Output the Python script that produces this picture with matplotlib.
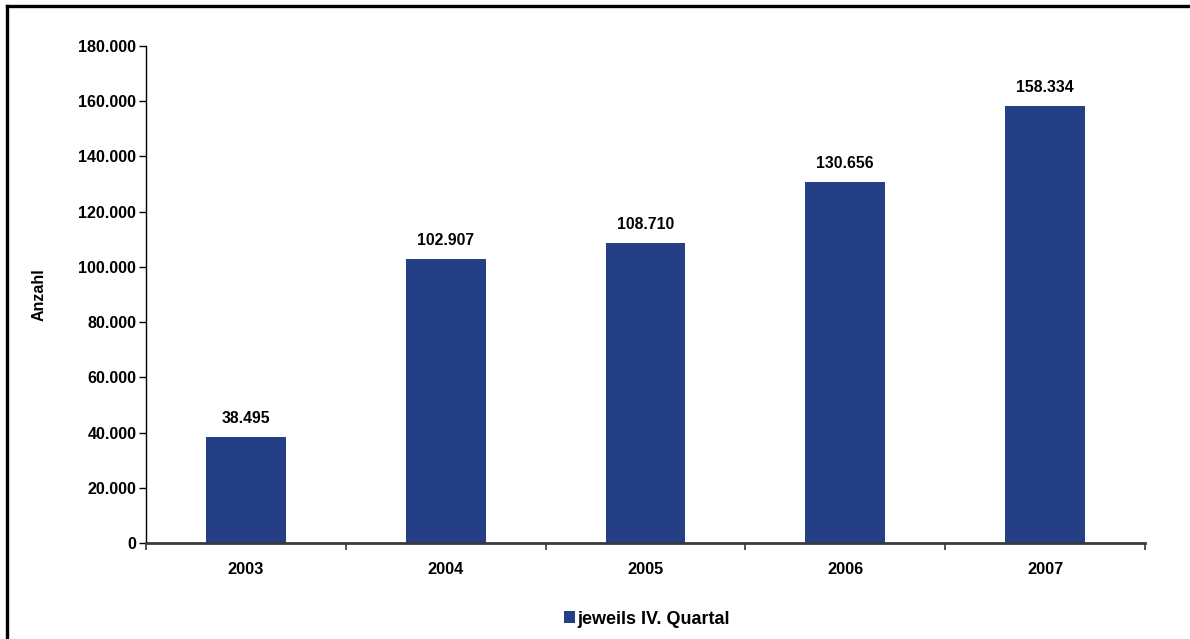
import matplotlib
matplotlib.use('Agg')
import matplotlib.pyplot as plt
from matplotlib.lines import Line2D
from matplotlib.ticker import FuncFormatter, FixedLocator

years = ['2003', '2004', '2005', '2006', '2007']
anzahl = [38495, 102907, 108710, 130656, 158334]
series_name = 'jeweils IV. Quartal'

bar_color = '#243F85'


def dotted(v, pos=None):
    # German thousands separator
    return '{:,.0f}'.format(v).replace(',', '.')


plt.rcParams['font.family'] = ['Liberation Sans', 'DejaVu Sans']
plt.rcParams['font.weight'] = 'bold'

fig = plt.figure(figsize=(11.9, 6.39), dpi=100)
ax = fig.add_axes([146 / 1190, 1 - 543 / 639, 999 / 1190, 497 / 639])

x = list(range(len(years)))
bars = ax.bar(x, anzahl, width=0.4, color=bar_color, label=series_name, zorder=2)

for xi, v in zip(x, anzahl):
    ax.annotate(dotted(v), (xi, v), xytext=(0, 8), textcoords='offset points',
                ha='center', va='bottom', fontsize=11.3, fontweight='bold')

ax.set_xlim(-0.5, len(years) - 0.5)
ax.set_ylim(0, 180000)
ax.set_yticks(range(0, 180001, 20000))
ax.yaxis.set_major_formatter(FuncFormatter(dotted))
ax.set_xticks(x)
ax.set_xticklabels(years)
ax.xaxis.set_minor_locator(FixedLocator([i - 0.5 for i in range(len(years) + 1)]))

ax.tick_params(axis='x', which='major', length=0, pad=14, labelsize=11.8)
ax.tick_params(axis='x', which='minor', length=5, width=1.2, color='#333333', direction='out')
ax.tick_params(axis='y', length=5, width=1, direction='out', labelsize=11.6, pad=2)

for side in ['top', 'right']:
    ax.spines[side].set_visible(False)
ax.spines['left'].set_linewidth(1)
ax.spines['bottom'].set_linewidth(2)
ax.spines['bottom'].set_color('#3a3a3a')

ax.set_ylabel('Anzahl', fontsize=11.5, fontweight='bold', labelpad=23)

ax.legend(loc='center', bbox_to_anchor=(647 / 1190, 1 - 619 / 639),
          bbox_transform=fig.transFigure, frameon=False, fontsize=13,
          handlelength=0.6, handleheight=0.6, handletextpad=0.15)

# outer frame: left and top edges
fig.add_artist(Line2D([7 / 1190, 7 / 1190], [0, 1 - 6 / 639], color='black', lw=2.4))
fig.add_artist(Line2D([7 / 1190, 1], [1 - 6 / 639, 1 - 6 / 639], color='black', lw=2.4))

fig.savefig('out.png', dpi=100)
